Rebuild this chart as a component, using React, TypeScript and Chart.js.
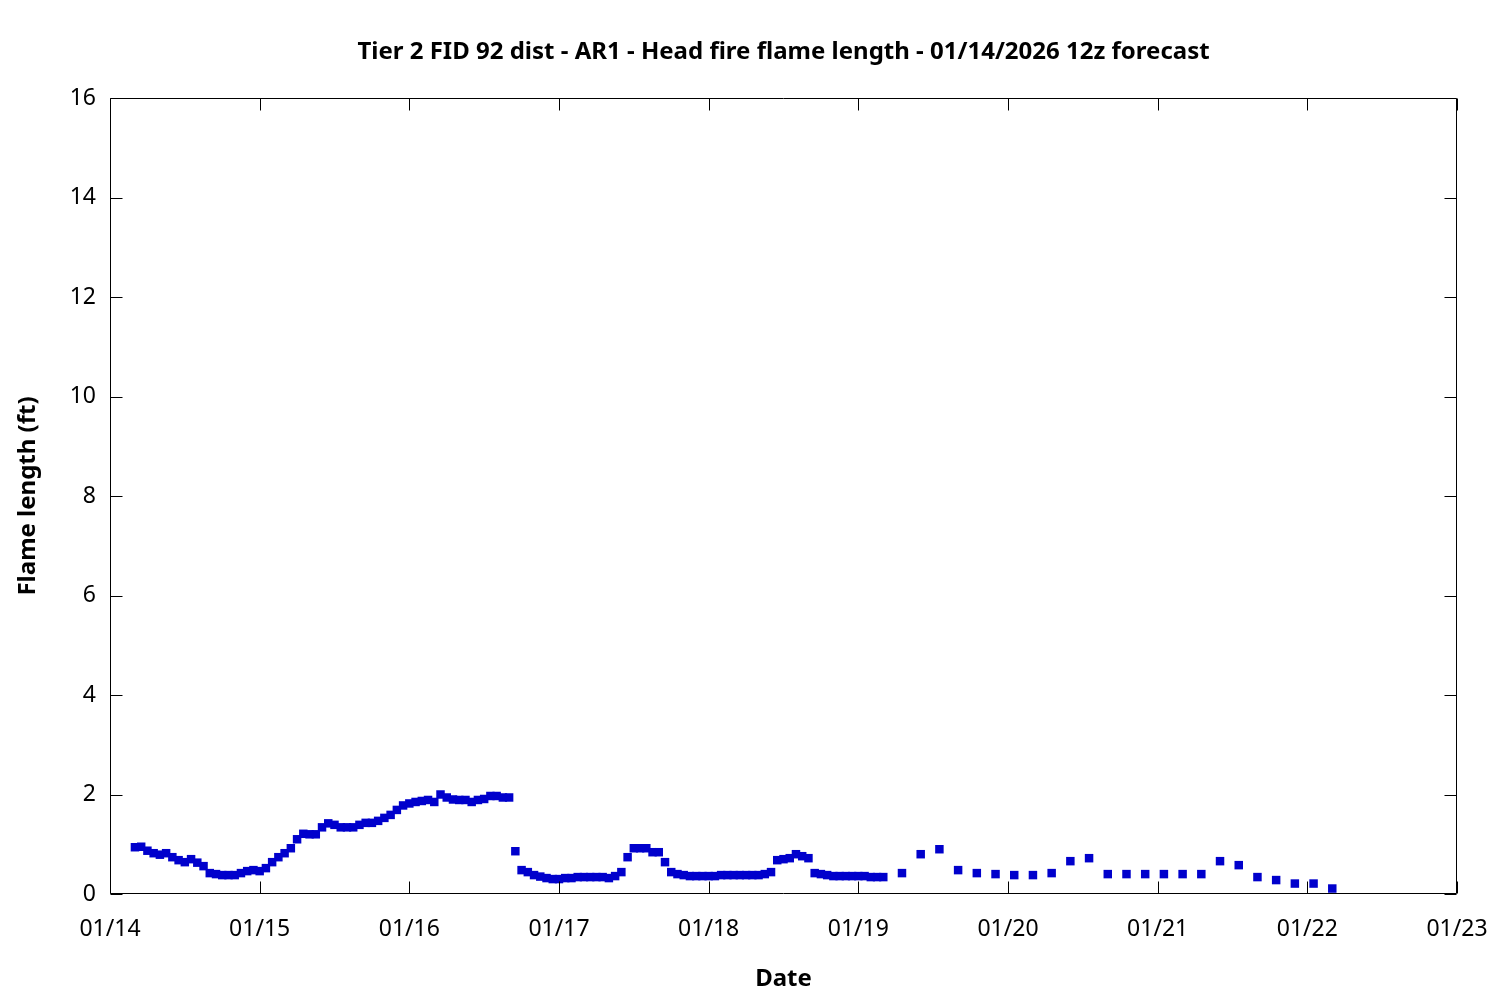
import React, { useEffect, useRef } from "react";
import { Chart, registerables } from "chart.js";

Chart.register(...registerables);

// Date tick labels (one per day, starting 01/14 00:00)
const dateLabels = ["01/14", "01/15", "01/16", "01/17", "01/18", "01/19", "01/20", "01/21", "01/22", "01/23"];

// Hourly forecast values, first one at 01/14 04:00 (hours since 01/14 00:00)
const hourlyStartHour = 4;
const hourlyValues = [
  0.94, 0.95, 0.87, 0.82, 0.79, 0.82, 0.74, 0.68, 0.64, 0.70,
  0.63, 0.56, 0.42, 0.40, 0.38, 0.38, 0.38, 0.42, 0.46, 0.48,
  0.46, 0.52, 0.64, 0.74, 0.82, 0.92, 1.10, 1.21, 1.20, 1.20,
  1.34, 1.42, 1.39, 1.34, 1.34, 1.34, 1.39, 1.43, 1.43, 1.47,
  1.53, 1.59, 1.69, 1.78, 1.82, 1.85, 1.87, 1.89, 1.85, 2.00,
  1.94, 1.90, 1.89, 1.89, 1.85, 1.89, 1.91, 1.97, 1.97, 1.94,
  1.94, 0.86, 0.48, 0.44, 0.38, 0.35, 0.32, 0.30, 0.30, 0.32,
  0.32, 0.34, 0.34, 0.34, 0.34, 0.34, 0.32, 0.36, 0.44, 0.74,
  0.92, 0.92, 0.92, 0.84, 0.84, 0.64, 0.44, 0.40, 0.38, 0.36,
  0.36, 0.36, 0.36, 0.36, 0.38, 0.38, 0.38, 0.38, 0.38, 0.38,
  0.38, 0.40, 0.44, 0.68, 0.70, 0.72, 0.80, 0.76, 0.72, 0.42,
  0.40, 0.38, 0.36, 0.36, 0.36, 0.36, 0.36, 0.36, 0.34, 0.34,
  0.34,
];

// Three-hourly forecast values, first one at 01/19 07:00
const threeHourlyStartHour = 127;
const threeHourlyStep = 3;
const threeHourlyValues = [
  0.42, 0.80, 0.90, 0.48, 0.42, 0.40, 0.38, 0.38, 0.42, 0.66,
  0.72, 0.40, 0.40, 0.40, 0.40, 0.40, 0.40, 0.66, 0.58, 0.34,
  0.28, 0.21, 0.21, 0.11,
];

const yTicksMax = 16;
const yTickStep = 2;

const FONT = '"Noto Sans", "Open Sans", sans-serif';

const framePlugin = {
  id: "gnuFrame",
  afterDraw(chart: any) {
    const { ctx, chartArea, scales } = chart;
    const xs = scales.x;
    const ys = scales.y;
    const L = Math.round(chartArea.left) + 0.5;
    const R = Math.round(chartArea.right) - 0.5;
    const T = Math.round(chartArea.top) + 0.5;
    const B = Math.round(chartArea.bottom) - 0.5;
    const len = 12;
    ctx.save();
    ctx.strokeStyle = "#000";
    ctx.lineWidth = 1;
    ctx.beginPath();
    ctx.rect(L, T, R - L, B - T);
    ys.ticks.forEach((t: any) => {
      const py = Math.round(ys.getPixelForValue(t.value)) + 0.5;
      ctx.moveTo(L, py);
      ctx.lineTo(L + len, py);
      ctx.moveTo(R, py);
      ctx.lineTo(R - len, py);
    });
    xs.ticks.forEach((t: any) => {
      const px = Math.round(xs.getPixelForValue(t.value)) + 0.5;
      ctx.moveTo(px, B);
      ctx.lineTo(px, B - len);
      ctx.moveTo(px, T);
      ctx.lineTo(px, T + len);
    });
    ctx.stroke();
    ctx.restore();
  },
};

export default function App() {
  const canvasRef = useRef<HTMLCanvasElement | null>(null);

  useEffect(() => {
    document.body.style.margin = "0";
    const canvas = canvasRef.current;
    if (!canvas) return;

    const points = [
      ...hourlyValues.map((v, i) => ({ x: hourlyStartHour + i, y: v })),
      ...threeHourlyValues.map((v, i) => ({ x: threeHourlyStartHour + i * threeHourlyStep, y: v })),
    ];

    Chart.defaults.color = "#000";
    Chart.defaults.font.family = FONT;

    const chart = new Chart(canvas, {
      type: "scatter",
      data: {
        datasets: [
          {
            label: "Head fire flame length",
            data: points,
            pointStyle: "rect",
            pointRadius: 6,
            pointHoverRadius: 6,
            backgroundColor: "#0000cc",
            borderColor: "#0000cc",
            borderWidth: 0,
            showLine: false,
          },
        ],
      },
      options: {
        responsive: false,
        animation: false,
        devicePixelRatio: 1,
        events: [],
        layout: { padding: { left: 0, right: 43, top: 0, bottom: 0 } },
        plugins: {
          legend: { display: false },
          tooltip: { enabled: false },
          title: {
            display: true,
            fullSize: false,
            text: "Tier 2 FID 92 dist - AR1 - Head fire flame length - 01/14/2026 12z forecast",
            color: "#000",
            font: { family: FONT, size: 24, weight: "bold", lineHeight: 1.2 },
            padding: { top: 37.5, bottom: 31.7 },
          },
        },
        scales: {
          x: {
            type: "linear",
            min: 0,
            max: (dateLabels.length - 1) * 24,
            grid: { display: false, drawTicks: false },
            border: { display: false },
            ticks: {
              stepSize: 24,
              autoSkip: false,
              maxRotation: 0,
              padding: 22,
              color: "#000",
              font: { family: FONT, size: 23 },
              callback: (v: any) => dateLabels[Math.round(Number(v) / 24)] ?? "",
            },
            title: {
              display: true,
              text: "Date",
              color: "#000",
              font: { family: FONT, size: 24, weight: "bold", lineHeight: 1.2 },
              padding: { top: 0, bottom: 6.6 },
            },
            afterFit: (scale: any) => {
              scale.height = 106;
              scale.paddingLeft = 0;
              scale.paddingRight = 0;
            },
          },
          y: {
            type: "linear",
            min: 0,
            max: yTicksMax,
            grid: { display: false, drawTicks: false },
            border: { display: false },
            ticks: {
              stepSize: yTickStep,
              padding: 14,
              color: "#000",
              font: { family: FONT, size: 23 },
            },
            title: {
              display: true,
              text: "Flame length (ft)",
              color: "#000",
              font: { family: FONT, size: 24, weight: "bold", lineHeight: 1.2 },
              padding: { top: 14, bottom: 0 },
            },
            afterFit: (scale: any) => {
              scale.width = 110;
            },
          },
        },
      },
      plugins: [framePlugin],
    });

    return () => {
      chart.destroy();
    };
  }, []);

  return (
    <div style={{ position: "absolute", left: 0, top: 0, width: 1500, height: 1000, background: "#fff" }}>
      <canvas ref={canvasRef} width={1500} height={1000} style={{ width: 1500, height: 1000, display: "block" }} />
    </div>
  );
}
